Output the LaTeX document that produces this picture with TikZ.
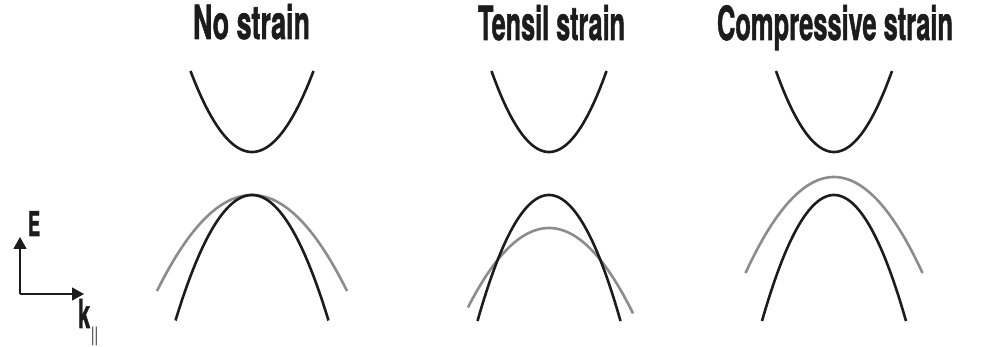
\documentclass[tikz,border=0pt]{standalone}
\usepackage{fontspec}
\setmainfont{TeX Gyre Heros}
\newfontfamily\heavyfont[BoldFeatures={FakeBold=1.6}]{TeX Gyre Heros}
\usepackage{graphicx}
\usetikzlibrary{arrows.meta}
\definecolor{bandblack}{HTML}{1C1C1C}
\definecolor{bandgray}{HTML}{8C8C8C}
\tikzset{
  blk/.style={draw=bandblack, line width=2.6pt},
  gry/.style={draw=bandgray, line width=2.6pt},
  axis/.style={draw=bandblack, line width=1.1pt, -{Triangle[length=12pt,width=13pt]}},
  title/.style={anchor=base, inner sep=0pt, text=bandblack, font=\heavyfont\fontsize{47}{47}\selectfont\bfseries},
  lbl/.style={inner sep=0pt, text=bandblack},
}
\begin{document}
\begin{tikzpicture}[x=1pt, y=-1pt]
\useasboundingbox (0,0) rectangle (997,347);
% titles
\node[title] (t1) at (251.5,39) {\resizebox{117pt}{\height}{No strain}};
\node[title] (t2) at (551.5,40) {\resizebox{147pt}{\height}{Tensil strain}};
\node[title] (t3) at (835,40) {\resizebox{236pt}{\height}{Compressive strain}};
% no strain
\draw[blk] plot[domain=-61.5:61.5, samples=60, smooth] ({252+\x},{152-81*(\x/61.5)^2});
\draw[gry] plot[domain=-95:95, samples=60, smooth] ({252+\x},{195+96*(\x/95)^2});
\draw[blk] plot[domain=-76.5:76.5, samples=60, smooth] ({252+\x},{195+125.5*(\x/76.5)^2});
% tensil strain
\draw[blk] plot[domain=-57.5:57.5, samples=60, smooth] ({549+\x},{152-81*(\x/57.5)^2});
\draw[gry] plot[domain=-81:84, samples=60, smooth] ({549+\x},{228+0.0121*(\x)^2});
\draw[blk] plot[domain=-71.5:71.5, samples=60, smooth] ({549+\x},{195+126*(\x/71.5)^2});
% compressive strain
\draw[blk] plot[domain=-58:58, samples=60, smooth] ({834+\x},{152-81*(\x/58)^2});
\draw[gry] plot[domain=-88.5:88.5, samples=60, smooth] ({834+\x},{177+96*(\x/88.5)^2});
\draw[blk] plot[domain=-72:72, samples=60, smooth] ({834+\x},{195+126*(\x/72)^2});
% axes
\coordinate (O) at (20,294);
\coordinate (Etip) at (20,237);
\coordinate (Ktip) at (84,294);
\draw[axis] (O) -- (Etip);
\draw[axis] (O) -- (Ktip);
\node[lbl, anchor=base west, font=\heavyfont\fontsize{34}{34}\selectfont\bfseries] (E) at (28,236) {\resizebox{12pt}{\height}{E}};
\node[lbl, anchor=base west, font=\heavyfont\fontsize{40}{40}\selectfont\bfseries] (k) at (78,328) {\resizebox{12pt}{\height}{k}};
\node[lbl, anchor=north west, font=\heavyfont\fontsize{20}{20}\selectfont] (kpar) at (91,327) {\resizebox{7pt}{\height}{||}};
\end{tikzpicture}
\end{document}
